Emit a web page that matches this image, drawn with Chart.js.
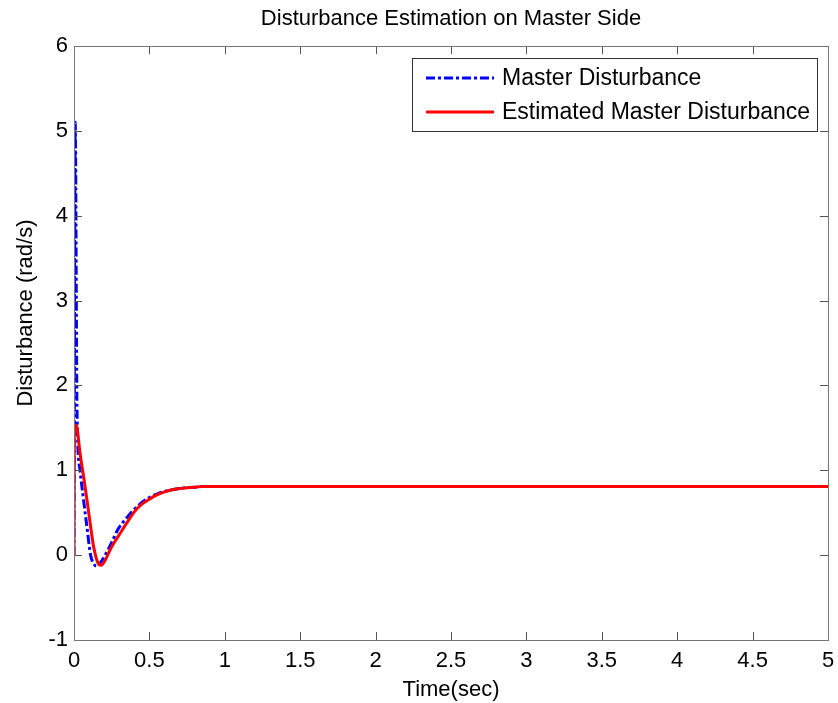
<!DOCTYPE html>
<html>
<head>
<meta charset="utf-8">
<script src="https://cdn.jsdelivr.net/npm/chart.js@4"></script>
<style>
  body { margin: 0; background: #fff; }
  #wrap { width: 838px; height: 703px; }
</style>
</head>
<body>
<div id="wrap"><canvas id="chart"></canvas></div>
<script>
// time axis (sec) and values
const masterTime = [0, 0.008, 0.02, 0.04, 0.06, 0.086, 0.11, 0.13, 0.15, 0.17, 0.2, 0.25, 0.29, 0.35, 0.4, 0.45, 0.5, 0.55, 0.6, 0.65, 0.7, 0.75, 0.8, 0.85, 5];
const masterDist = [0, 5.1, 1.7, 1.0, 0.7, 0.33, 0.0, -0.1, -0.13, -0.1, -0.02, 0.15, 0.3, 0.44, 0.54, 0.62, 0.68, 0.72, 0.75, 0.77, 0.785, 0.795, 0.8, 0.81, 0.81];

const estTime = [0, 0.002, 0.015, 0.04, 0.07, 0.1, 0.13, 0.165, 0.18, 0.2, 0.25, 0.3, 0.35, 0.4, 0.45, 0.5, 0.55, 0.6, 0.65, 0.7, 0.75, 0.8, 0.85, 5];
const estDist = [0, 1.45, 1.53, 1.2, 0.85, 0.47, 0.1, -0.11, -0.12, -0.08, 0.1, 0.24, 0.38, 0.51, 0.6, 0.66, 0.71, 0.745, 0.77, 0.785, 0.795, 0.8, 0.81, 0.81];

const seriesNames = ["Master Disturbance", "Estimated Master Disturbance"];
const chartTitle = "Disturbance Estimation on Master Side";
const yLabel = "Disturbance (rad/s)";

const FONT = "'Liberation Sans', Arial, sans-serif";

function toPoints(xs, ys) {
    return xs.map((x, i) => ({ x: x, y: ys[i] }));
}

// MATLAB-style box with inward ticks, title and y label
const framePlugin = {
    id: "frame",
    afterDatasetsDraw(chart) {
        const ctx = chart.ctx;
        const a = chart.chartArea;
        const xs = chart.scales.x, ys = chart.scales.y;
        const len = 8;
        ctx.save();
        ctx.strokeStyle = "#555";
        ctx.lineWidth = 1;
        ctx.beginPath();
        xs.ticks.forEach(t => {
            const px = Math.round(xs.getPixelForValue(t.value)) + 0.5;
            ctx.moveTo(px, a.bottom); ctx.lineTo(px, a.bottom - len);
            ctx.moveTo(px, a.top); ctx.lineTo(px, a.top + len);
        });
        ys.ticks.forEach(t => {
            const py = Math.round(ys.getPixelForValue(t.value)) + 0.5;
            ctx.moveTo(a.left, py); ctx.lineTo(a.left + len, py);
            ctx.moveTo(a.right, py); ctx.lineTo(a.right - len, py);
        });
        ctx.stroke();
        ctx.strokeStyle = "#777";
        ctx.strokeRect(Math.round(a.left) + 0.5, Math.round(a.top) + 0.5,
                       Math.round(a.right - a.left), Math.round(a.bottom - a.top));

        ctx.fillStyle = "#000";
        ctx.textAlign = "center";
        ctx.textBaseline = "middle";
        ctx.font = "22px " + FONT;
        ctx.fillText(chartTitle, (a.left + a.right) / 2, 19);

        ctx.translate(26, 313);
        ctx.rotate(-Math.PI / 2);
        ctx.fillText(yLabel, 0, 0);
        ctx.restore();
    }
};

// legend box in the upper right of the axes
const legendPlugin = {
    id: "boxLegend",
    afterDraw(chart) {
        const ctx = chart.ctx;
        const a = chart.chartArea;
        const w = 405, h = 73;
        const x0 = Math.round(a.right - 11 - w), y0 = Math.round(a.top + 12);
        ctx.save();
        ctx.fillStyle = "#fff";
        ctx.fillRect(x0, y0, w, h);
        ctx.strokeStyle = "#333";
        ctx.lineWidth = 1;
        ctx.strokeRect(x0 + 0.5, y0 + 0.5, w, h);
        ctx.font = "23px " + FONT;
        ctx.textBaseline = "middle";
        ctx.textAlign = "left";
        chart.data.datasets.forEach((ds, i) => {
            const y = y0 + 20 + i * 34;
            ctx.strokeStyle = ds.borderColor;
            ctx.lineWidth = ds.borderWidth;
            ctx.setLineDash(ds.borderDash || []);
            ctx.beginPath();
            ctx.moveTo(x0 + 14, y);
            ctx.lineTo(x0 + 82, y);
            ctx.stroke();
            ctx.setLineDash([]);
            ctx.fillStyle = "#000";
            ctx.fillText(ds.label, x0 + 90, y + 1);
        });
        ctx.restore();
    }
};

new Chart(document.getElementById("chart"), {
    type: "line",
    data: {
        datasets: [{
            label: seriesNames[0],
            data: toPoints(masterTime, masterDist),
            borderColor: "#0000ff",
            borderWidth: 3,
            borderDash: [9, 3, 3, 3],
            pointRadius: 0,
            cubicInterpolationMode: "monotone",
            order: 1
        }, {
            label: seriesNames[1],
            data: toPoints(estTime, estDist),
            borderColor: "#ff0000",
            borderWidth: 3,
            pointRadius: 0,
            cubicInterpolationMode: "monotone",
            order: 0
        }]
    },
    options: {
        responsive: true,
        maintainAspectRatio: false,
        animation: false,
        layout: { padding: { left: 0, right: 10, top: 46, bottom: 0 } },
        plugins: {
            legend: { display: false },
            tooltip: { enabled: false },
            title: { display: false }
        },
        scales: {
            x: {
                type: "linear",
                min: 0,
                max: 5,
                grid: { display: false, drawTicks: false },
                border: { display: false },
                ticks: {
                    stepSize: 0.5,
                    padding: 8,
                    color: "#000",
                    font: { family: FONT, size: 22 },
                    maxRotation: 0,
                    callback: v => String(v)
                },
                title: {
                    display: true,
                    text: "Time(sec)",
                    color: "#000",
                    font: { family: FONT, size: 22 },
                    padding: { top: 0, bottom: 0 }
                },
                afterFit: s => {
                    s.height = 63;
                    s.paddingLeft = 0;
                    s.paddingRight = 0;
                }
            },
            y: {
                min: -1,
                max: 6,
                grid: { display: false, drawTicks: false },
                border: { display: false },
                ticks: {
                    stepSize: 1,
                    padding: 6,
                    color: "#000",
                    font: { family: FONT, size: 22 }
                },
                afterFit: s => {
                    s.width = 74;
                    s.paddingTop = 0;
                    s.paddingBottom = 0;
                }
            }
        }
    },
    plugins: [framePlugin, legendPlugin]
});
</script>
</body>
</html>
